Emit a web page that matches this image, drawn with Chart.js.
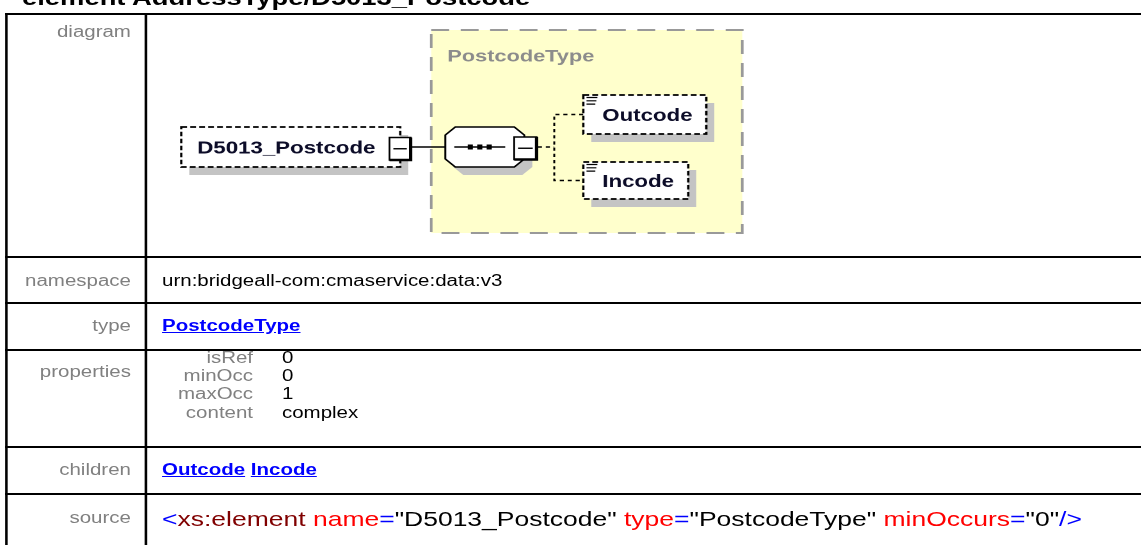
<!DOCTYPE html>
<html>
<head>
<meta charset="utf-8">
<script src="https://cdn.jsdelivr.net/npm/chart.js@4.4.1/dist/chart.umd.min.js"></script>
<style>
html,body{margin:0;padding:0;background:#fff;overflow:hidden;width:1141px;height:545px;}
#page{position:absolute;left:0;top:0;width:900px;height:545px;transform:scale(1.28,1);transform-origin:0 0;
  font-family:"Liberation Sans",Arial,sans-serif;font-size:16px;line-height:18px;color:#000;}
.h{position:absolute;left:4px;width:900px;height:2px;background:#000;}
.v{position:absolute;top:13px;width:1.6px;height:540px;background:#000;}
.lab{position:absolute;left:4px;width:98.3px;text-align:right;color:#808080;white-space:nowrap;}
.val{position:absolute;left:126.6px;white-space:nowrap;}
.lnk{color:#0000ff;font-weight:bold;text-decoration:underline;}
.pn{position:absolute;left:120px;width:77.7px;text-align:right;color:#808080;white-space:nowrap;}
.pv{position:absolute;left:220.3px;white-space:nowrap;}
#head{position:absolute;left:17.2px;top:-14px;font-weight:bold;font-size:21.4px;line-height:24px;white-space:nowrap;}
#src{font-size:20.7px;line-height:24px;}
#diag{position:absolute;left:114.9px;top:15px;width:776px;height:241px;}
</style>
</head>
<body>
<div id="page">
  <div id="head"></div>
  <div id="grid"></div>
  <div id="cells"></div>
  <canvas id="diag" width="776" height="241"></canvas>
</div>
<script>
// ---- content ----
const headingKind = 'element';
const headingPath = 'AddressType/D5013_Postcode';
const rowLabels = ['diagram', 'namespace', 'type', 'properties', 'children', 'source'];
const namespaceValue = 'urn:bridgeall-com:cmaservice:data:v3';
const typeName = 'PostcodeType';
const propertyNames = ['isRef', 'minOcc', 'maxOcc', 'content'];
const propertyValues = ['0', '0', '1', 'complex'];
const rootName = 'D5013_Postcode';
const childNames = ['Outcode', 'Incode'];
const sourceTokens = ['<', 'xs:element', ' ', 'name', '=', '"D5013_Postcode"', ' ', 'type', '=', '"PostcodeType"', ' ', 'minOccurs', '=', '"0"', '/>'];
const sourceKinds  = ['p', 'tag', 's', 'attr', 'p', 'str', 's', 'attr', 'p', 'str', 's', 'attr', 'p', 'str', 'p'];

// ---- layout / styles (not data) ----
const hLines = [13, 256, 302, 349, 446, 493];
const vLines = [4, 113.3];
const labelTops = [23, 272, 317, 363, 461, 509];
const propTops = [348.5, 366.9, 385.3, 403.7];
const kindColor = {p: '#0000ff', tag: '#800000', s: '#000', attr: '#ff0000', str: '#000'};

document.getElementById('head').textContent = headingKind + ' ' + headingPath;
const grid = document.getElementById('grid');
hLines.forEach(y => { const d = document.createElement('div'); d.className = 'h'; d.style.top = y + 'px'; grid.appendChild(d); });
vLines.forEach(x => { const d = document.createElement('div'); d.className = 'v'; d.style.left = x + 'px'; grid.appendChild(d); });

const cells = document.getElementById('cells');
function add(cls, top, html) { const d = document.createElement('div'); d.className = cls; d.style.top = top + 'px'; d.innerHTML = html; cells.appendChild(d); return d; }
function esc(s) { return s.replace(/&/g, '&amp;').replace(/</g, '&lt;').replace(/>/g, '&gt;').replace(/"/g, '&quot;'); }
rowLabels.forEach((l, i) => add('lab', labelTops[i], esc(l)));
add('val', labelTops[1], esc(namespaceValue));
add('val', labelTops[2], '<span class="lnk">' + esc(typeName) + '</span>');
propertyNames.forEach((n, i) => { add('pn', propTops[i], esc(n)); add('pv', propTops[i], esc(propertyValues[i])); });
add('val', labelTops[4], childNames.map(c => '<span class="lnk">' + esc(c) + '</span>').join(' '));
const src = add('val', labelTops[5] - 2, sourceTokens.map((t, i) => '<span style="color:' + kindColor[sourceKinds[i]] + '">' + esc(t).replace(/ /g, '&nbsp;') + '</span>').join(''));
src.id = 'src';

// ---- diagram geometry in diagram units (canvas space) ----
const G = {
  W: 776, H: 241,
  typeBox: [221.9, 15, 464.9, 218],
  typeLabel: [234.4, 46.5],
  root: [26.6, 112, 197.7, 152],
  rootText: [39.1, 138.5],
  rootMinus: [189.3, 122.5, 205.8, 145],
  octa: [232.9, 112, 294.6, 152],
  seqMinus: [286.7, 122, 304.2, 144.5],
  seqLine: [239.9, 279.7, 132],
  seqDots: [252.4, 259.8, 267.2],
  fork: [318, 340.7],
  children: [[340.7, 80, 436.8, 119], [340.7, 147, 422.7, 184]],
  childTextX: 355.5,
  shadow: [6.25, 8]
};

const diagramPlugin = {
  id: 'xsdDiagram',
  afterDraw(chart) {
    const ctx = chart.ctx, sx = chart.scales.x, sy = chart.scales.y;
    const X = v => sx.getPixelForValue(v), Y = v => sy.getPixelForValue(v);
    const [ox, oy] = G.shadow;
    ctx.save();
    function rectPath(b, dx = 0, dy = 0) { ctx.beginPath(); ctx.rect(X(b[0] + dx), Y(b[1] + dy), X(b[2]) - X(b[0]), Y(b[3]) - Y(b[1])); }
    // type container
    rectPath(G.typeBox); ctx.fillStyle = '#ffffcc'; ctx.fill();
    ctx.setLineDash([14, 9]); ctx.lineWidth = 2; ctx.strokeStyle = '#999999'; ctx.stroke();
    ctx.setLineDash([]);
    ctx.font = 'bold 17px "Liberation Sans", Arial, sans-serif';
    ctx.fillStyle = '#8c8c8c'; ctx.textBaseline = 'alphabetic';
    ctx.fillText(typeName, X(G.typeLabel[0]), Y(G.typeLabel[1]));

    function elementBox(b, label, tx, ty, icon) {
      rectPath(b, ox, oy); ctx.fillStyle = '#c4c4c4'; ctx.fill();
      rectPath(b); ctx.fillStyle = '#ffffff'; ctx.fill();
      ctx.setLineDash([4.5, 2.5]); ctx.lineWidth = 1.8; ctx.strokeStyle = '#000'; ctx.stroke(); ctx.setLineDash([]);
      if (icon) {
        ctx.lineWidth = 1.2; ctx.beginPath();
        [0, 3.3, 6.6].forEach((d, i) => { ctx.moveTo(X(b[0] + 2.5), Y(b[1] + 2.5 + d)); ctx.lineTo(X(b[0] + 11 - i * 0.8), Y(b[1] + 2.5 + d)); });
        ctx.stroke();
      }
      ctx.font = 'bold 17.4px "Liberation Sans", Arial, sans-serif';
      ctx.fillStyle = '#0c0c28';
      ctx.fillText(label, X(tx), Y(ty));
    }
    function minusBox(b) {
      rectPath(b); ctx.fillStyle = '#fff'; ctx.fill();
      ctx.lineWidth = 1.4; ctx.strokeStyle = '#000'; ctx.stroke();
      ctx.lineWidth = 2.6; ctx.beginPath();
      ctx.moveTo(X(b[2]), Y(b[1])); ctx.lineTo(X(b[2]), Y(b[3])); ctx.lineTo(X(b[0]), Y(b[3])); ctx.stroke();
      ctx.lineWidth = 1.4; ctx.beginPath();
      const cy = (b[1] + b[3]) / 2;
      ctx.moveTo(X(b[0] + 3), Y(cy)); ctx.lineTo(X(b[2] - 3), Y(cy)); ctx.stroke();
    }
    // root element
    elementBox(G.root, rootName, G.rootText[0], G.rootText[1], false);
    minusBox(G.rootMinus);
    // connector root -> sequence
    const cy = G.seqLine[2];
    ctx.lineWidth = 1.5; ctx.strokeStyle = '#000'; ctx.beginPath();
    ctx.moveTo(X(G.rootMinus[2]), Y(cy)); ctx.lineTo(X(G.octa[0]), Y(cy)); ctx.stroke();
    // sequence octagon
    function octa(b, dx, dy) {
      const cx = 7.8, cv = 8;
      ctx.beginPath();
      ctx.moveTo(X(b[0] + cx + dx), Y(b[1] + dy)); ctx.lineTo(X(b[2] - cx + dx), Y(b[1] + dy));
      ctx.lineTo(X(b[2] + dx), Y(b[1] + cv + dy)); ctx.lineTo(X(b[2] + dx), Y(b[3] - cv + dy));
      ctx.lineTo(X(b[2] - cx + dx), Y(b[3] + dy)); ctx.lineTo(X(b[0] + cx + dx), Y(b[3] + dy));
      ctx.lineTo(X(b[0] + dx), Y(b[3] - cv + dy)); ctx.lineTo(X(b[0] + dx), Y(b[1] + cv + dy)); ctx.closePath();
    }
    octa(G.octa, ox, oy); ctx.fillStyle = '#c4c4c4'; ctx.fill();
    octa(G.octa, 0, 0); ctx.fillStyle = '#fff'; ctx.fill(); ctx.lineWidth = 1.5; ctx.strokeStyle = '#000'; ctx.stroke();
    ctx.beginPath(); ctx.moveTo(X(G.seqLine[0]), Y(cy)); ctx.lineTo(X(G.seqLine[1]), Y(cy)); ctx.stroke();
    ctx.fillStyle = '#000';
    G.seqDots.forEach(d => ctx.fillRect(X(d - 2), Y(cy - 2.5), X(4) - X(0), Y(5) - Y(0)));
    minusBox(G.seqMinus);
    // fork to children
    const c0 = G.children[0], c1 = G.children[1];
    const y0 = (c0[1] + c0[3]) / 2, y1 = (c1[1] + c1[3]) / 2;
    ctx.setLineDash([3.2, 3]); ctx.lineWidth = 1.5; ctx.strokeStyle = '#000';
    ctx.beginPath();
    ctx.moveTo(X(G.seqMinus[2] + 1), Y(cy)); ctx.lineTo(X(G.fork[0]), Y(cy));
    ctx.moveTo(X(G.fork[1]), Y(y0)); ctx.lineTo(X(G.fork[0]), Y(y0)); ctx.lineTo(X(G.fork[0]), Y(y1)); ctx.lineTo(X(G.fork[1]), Y(y1));
    ctx.stroke(); ctx.setLineDash([]);
    G.children.forEach((b, i) => elementBox(b, childNames[i], G.childTextX, (b[1] + b[3]) / 2 + 6.3, true));
    ctx.restore();
  }
};

new Chart(document.getElementById('diag'), {
  type: 'scatter',
  data: { datasets: [{ data: [], pointRadius: 0 }] },
  options: {
    responsive: false, animation: false, devicePixelRatio: 2,
    layout: { padding: 0 },
    plugins: { legend: { display: false }, tooltip: { enabled: false } },
    scales: {
      x: { type: 'linear', min: 0, max: G.W, display: false },
      y: { type: 'linear', min: 0, max: G.H, reverse: true, display: false }
    }
  },
  plugins: [diagramPlugin]
});
</script>
</body>
</html>
